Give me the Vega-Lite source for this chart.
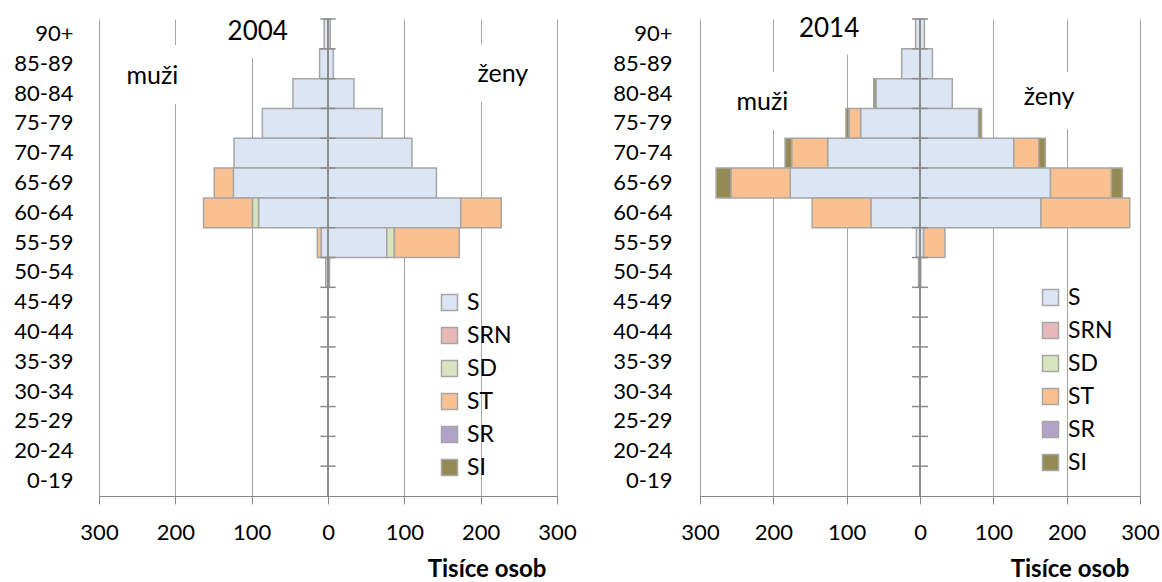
{
  "$schema": "https://vega.github.io/schema/vega-lite/v6.json",
  "background": "white",
  "padding": {"left": 13, "top": 15, "right": 0, "bottom": 0},
  "config": {"font": "Lato", "view": {"stroke": null}},
  "datasets": {
    "ages": [{"age": "90+"}, {"age": "85-89"}, {"age": "80-84"}, {"age": "75-79"}, {"age": "70-74"}, {"age": "65-69"}, {"age": "60-64"}, {"age": "55-59"}, {"age": "50-54"}, {"age": "45-49"}, {"age": "40-44"}, {"age": "35-39"}, {"age": "30-34"}, {"age": "25-29"}, {"age": "20-24"}, {"age": "0-19"}],
    "pop": [
      {"year": 2004, "age": "90+", "type": "S", "value": -5},
      {"year": 2004, "age": "90+", "type": "S", "value": 3},
      {"year": 2004, "age": "85-89", "type": "S", "value": -11},
      {"year": 2004, "age": "85-89", "type": "S", "value": 7},
      {"year": 2004, "age": "80-84", "type": "S", "value": -46},
      {"year": 2004, "age": "80-84", "type": "S", "value": 34},
      {"year": 2004, "age": "75-79", "type": "S", "value": -86},
      {"year": 2004, "age": "75-79", "type": "S", "value": 71},
      {"year": 2004, "age": "70-74", "type": "S", "value": -123},
      {"year": 2004, "age": "70-74", "type": "S", "value": 110},
      {"year": 2004, "age": "65-69", "type": "S", "value": -124},
      {"year": 2004, "age": "65-69", "type": "ST", "value": -25},
      {"year": 2004, "age": "65-69", "type": "S", "value": 142},
      {"year": 2004, "age": "60-64", "type": "S", "value": -91},
      {"year": 2004, "age": "60-64", "type": "SD", "value": -8},
      {"year": 2004, "age": "60-64", "type": "ST", "value": -64},
      {"year": 2004, "age": "60-64", "type": "S", "value": 174},
      {"year": 2004, "age": "60-64", "type": "ST", "value": 53},
      {"year": 2004, "age": "55-59", "type": "S", "value": -9},
      {"year": 2004, "age": "55-59", "type": "ST", "value": -5},
      {"year": 2004, "age": "55-59", "type": "S", "value": 77},
      {"year": 2004, "age": "55-59", "type": "SD", "value": 10},
      {"year": 2004, "age": "55-59", "type": "ST", "value": 85},
      {"year": 2004, "age": "50-54", "type": "S", "value": -3},
      {"year": 2004, "age": "50-54", "type": "S", "value": 2},
      {"year": 2014, "age": "90+", "type": "S", "value": -6},
      {"year": 2014, "age": "90+", "type": "S", "value": 6},
      {"year": 2014, "age": "85-89", "type": "S", "value": -25},
      {"year": 2014, "age": "85-89", "type": "S", "value": 17},
      {"year": 2014, "age": "80-84", "type": "S", "value": -60},
      {"year": 2014, "age": "80-84", "type": "SI", "value": -3},
      {"year": 2014, "age": "80-84", "type": "S", "value": 44},
      {"year": 2014, "age": "75-79", "type": "S", "value": -81},
      {"year": 2014, "age": "75-79", "type": "ST", "value": -16},
      {"year": 2014, "age": "75-79", "type": "SI", "value": -4},
      {"year": 2014, "age": "75-79", "type": "S", "value": 80},
      {"year": 2014, "age": "75-79", "type": "SI", "value": 4},
      {"year": 2014, "age": "70-74", "type": "S", "value": -126},
      {"year": 2014, "age": "70-74", "type": "ST", "value": -49},
      {"year": 2014, "age": "70-74", "type": "SI", "value": -9},
      {"year": 2014, "age": "70-74", "type": "S", "value": 128},
      {"year": 2014, "age": "70-74", "type": "ST", "value": 34},
      {"year": 2014, "age": "70-74", "type": "SI", "value": 9},
      {"year": 2014, "age": "65-69", "type": "S", "value": -177},
      {"year": 2014, "age": "65-69", "type": "ST", "value": -81},
      {"year": 2014, "age": "65-69", "type": "SI", "value": -20},
      {"year": 2014, "age": "65-69", "type": "S", "value": 178},
      {"year": 2014, "age": "65-69", "type": "ST", "value": 83},
      {"year": 2014, "age": "65-69", "type": "SI", "value": 15},
      {"year": 2014, "age": "60-64", "type": "S", "value": -67},
      {"year": 2014, "age": "60-64", "type": "ST", "value": -80},
      {"year": 2014, "age": "60-64", "type": "S", "value": 165},
      {"year": 2014, "age": "60-64", "type": "ST", "value": 121},
      {"year": 2014, "age": "55-59", "type": "S", "value": -5},
      {"year": 2014, "age": "55-59", "type": "S", "value": 5},
      {"year": 2014, "age": "55-59", "type": "ST", "value": 29},
      {"year": 2014, "age": "50-54", "type": "S", "value": -2},
      {"year": 2014, "age": "50-54", "type": "S", "value": 1}
    ]
  },
  "spacing": 35,
  "resolve": {"scale": {"x": "independent", "y": "independent", "color": "shared"}, "axis": {"x": "independent", "y": "independent"}, "legend": {"color": "independent"}},
  "hconcat": [
    {
      "width": 458,
      "height": 477,
      "layer": [
        {"data": {"values": [{}]}, "mark": {"type": "text", "text": "2004", "fontSize": 26, "baseline": "alphabetic", "dy": 6, "stroke": "white", "strokeWidth": 36, "strokeJoin": "round", "color": "white"}, "encoding": {"x": {"datum": -92, "type": "quantitative"}, "y": {"datum": "90+", "type": "nominal"}}},
        {"data": {"values": [{}]}, "mark": {"type": "text", "text": "muži", "fontSize": 25, "baseline": "alphabetic", "dy": -10, "stroke": "white", "strokeWidth": 40, "strokeJoin": "round", "color": "white"}, "encoding": {"x": {"datum": -230, "type": "quantitative"}, "y": {"datum": "80-84", "type": "nominal"}}},
        {"data": {"values": [{}]}, "mark": {"type": "text", "text": "ženy", "fontSize": 25, "baseline": "alphabetic", "dy": -12, "stroke": "white", "strokeWidth": 40, "strokeJoin": "round", "color": "white"}, "encoding": {"x": {"datum": 229, "type": "quantitative"}, "y": {"datum": "80-84", "type": "nominal"}}},
        {
          "data": {"name": "pop"},
          "transform": [{"filter": "datum.year == 2004"}, {"calculate": "indexof(['S','SRN','SD','ST','SR','SI'], datum.type)", "as": "stackOrder"}],
          "mark": {"type": "bar", "stroke": "#a6a6a6", "strokeWidth": 1.5},
          "encoding": {
            "y": {"field": "age", "type": "nominal", "scale": {"domain": ["90+", "85-89", "80-84", "75-79", "70-74", "65-69", "60-64", "55-59", "50-54", "45-49", "40-44", "35-39", "30-34", "25-29", "20-24", "0-19"], "paddingInner": 0, "paddingOuter": 0}, "axis": {"title": null, "domain": false, "ticks": false, "grid": false, "labelPadding": 26, "labelFontSize": 22, "labelColor": "black"}},
            "x": {"field": "value", "type": "quantitative", "stack": "zero", "scale": {"domain": [-300, 300], "nice": false}, "axis": {"values": [-300, -250, -200, -150, -100, -50, 0, 50, 100, 150, 200, 250, 300], "labelExpr": "datum.value % 100 == 0 ? abs(datum.value) : ''", "title": "Tisíce osob", "titleFontWeight": "bold", "titleFontSize": 24, "titleAlign": "right", "titleAnchor": "end", "titleX": 447, "titleY": 80, "titleBaseline": "alphabetic", "titleColor": "black", "grid": true, "gridColor": "#a6a6a6", "gridOpacity": {"condition": {"test": "datum.value % 100 != 0 || datum.value == 0", "value": 0}, "value": 1}, "domainColor": "#868686", "tickColor": "#868686", "tickSize": {"condition": {"test": "datum.value % 100 == 0", "value": 8}, "value": 6}, "labelPadding": 18, "labelFontSize": 22, "labelFlush": false, "labelColor": "black"}},
            "color": {"field": "type", "type": "nominal", "sort": ["S", "SRN", "SD", "ST", "SR", "SI"], "scale": {"domain": ["S", "SRN", "SD", "ST", "SR", "SI"], "range": ["#dbe5f3", "#e6b9b8", "#d7e4bd", "#fac090", "#b3a2c7", "#948a54"]}, "legend": {"orient": "none", "legendX": 339, "legendY": 272, "title": null, "symbolType": "square", "symbolSize": 256, "symbolStrokeColor": "#a6a6a6", "symbolStrokeWidth": 1.5, "labelFontSize": 23, "labelColor": "black", "rowPadding": 9, "labelOffset": 6}},
            "order": {"field": "stackOrder", "type": "quantitative", "sort": "ascending"}
          }
        },
        {"data": {"values": [{}]}, "mark": {"type": "rule", "color": "#8c8c8c", "strokeWidth": 2}, "encoding": {"x": {"datum": 0, "type": "quantitative"}}},
        {"data": {"name": "ages"}, "mark": {"type": "rule", "color": "#8c8c8c", "strokeWidth": 1.5}, "encoding": {"y": {"field": "age", "type": "nominal", "bandPosition": 0}, "x": {"datum": -10, "type": "quantitative"}, "x2": {"datum": 10}}},
        {"data": {"values": [{}]}, "mark": {"type": "text", "text": "2004", "fontSize": 26, "baseline": "alphabetic", "dy": 6, "color": "black"}, "encoding": {"x": {"datum": -92, "type": "quantitative"}, "y": {"datum": "90+", "type": "nominal"}}},
        {"data": {"values": [{}]}, "mark": {"type": "text", "text": "muži", "fontSize": 25, "baseline": "alphabetic", "dy": -10, "color": "black"}, "encoding": {"x": {"datum": -230, "type": "quantitative"}, "y": {"datum": "80-84", "type": "nominal"}}},
        {"data": {"values": [{}]}, "mark": {"type": "text", "text": "ženy", "fontSize": 25, "baseline": "alphabetic", "dy": -12, "color": "black"}, "encoding": {"x": {"datum": 229, "type": "quantitative"}, "y": {"datum": "80-84", "type": "nominal"}}}
      ]
    },
    {
      "width": 440,
      "height": 477,
      "layer": [
        {"data": {"values": [{}]}, "mark": {"type": "text", "text": "2014", "fontSize": 26, "baseline": "alphabetic", "dy": 3, "stroke": "white", "strokeWidth": 36, "strokeJoin": "round", "color": "white"}, "encoding": {"x": {"datum": -124, "type": "quantitative"}, "y": {"datum": "90+", "type": "nominal"}}},
        {"data": {"values": [{}]}, "mark": {"type": "text", "text": "muži", "fontSize": 25, "baseline": "alphabetic", "dy": 16, "stroke": "white", "strokeWidth": 40, "strokeJoin": "round", "color": "white"}, "encoding": {"x": {"datum": -215, "type": "quantitative"}, "y": {"datum": "80-84", "type": "nominal"}}},
        {"data": {"values": [{}]}, "mark": {"type": "text", "text": "ženy", "fontSize": 25, "baseline": "alphabetic", "dy": 11, "stroke": "white", "strokeWidth": 40, "strokeJoin": "round", "color": "white"}, "encoding": {"x": {"datum": 176, "type": "quantitative"}, "y": {"datum": "80-84", "type": "nominal"}}},
        {
          "data": {"name": "pop"},
          "transform": [{"filter": "datum.year == 2014"}, {"calculate": "indexof(['S','SRN','SD','ST','SR','SI'], datum.type)", "as": "stackOrder"}],
          "mark": {"type": "bar", "stroke": "#a6a6a6", "strokeWidth": 1.5},
          "encoding": {
            "y": {"field": "age", "type": "nominal", "scale": {"domain": ["90+", "85-89", "80-84", "75-79", "70-74", "65-69", "60-64", "55-59", "50-54", "45-49", "40-44", "35-39", "30-34", "25-29", "20-24", "0-19"], "paddingInner": 0, "paddingOuter": 0}, "axis": {"title": null, "domain": false, "ticks": false, "grid": false, "labelPadding": 28, "labelFontSize": 22, "labelColor": "black"}},
            "x": {"field": "value", "type": "quantitative", "stack": "zero", "scale": {"domain": [-300, 300], "nice": false}, "axis": {"values": [-300, -250, -200, -150, -100, -50, 0, 50, 100, 150, 200, 250, 300], "labelExpr": "datum.value % 100 == 0 ? abs(datum.value) : ''", "title": "Tisíce osob", "titleFontWeight": "bold", "titleFontSize": 24, "titleAlign": "right", "titleAnchor": "end", "titleX": 429, "titleY": 80, "titleBaseline": "alphabetic", "titleColor": "black", "grid": true, "gridColor": "#a6a6a6", "gridOpacity": {"condition": {"test": "datum.value % 100 != 0 || datum.value == 0", "value": 0}, "value": 1}, "domainColor": "#868686", "tickColor": "#868686", "tickSize": {"condition": {"test": "datum.value % 100 == 0", "value": 8}, "value": 6}, "labelPadding": 18, "labelFontSize": 22, "labelFlush": false, "labelColor": "black"}},
            "color": {"field": "type", "type": "nominal", "sort": ["S", "SRN", "SD", "ST", "SR", "SI"], "scale": {"domain": ["S", "SRN", "SD", "ST", "SR", "SI"], "range": ["#dbe5f3", "#e6b9b8", "#d7e4bd", "#fac090", "#b3a2c7", "#948a54"]}, "legend": {"orient": "none", "legendX": 339, "legendY": 267, "title": null, "symbolType": "square", "symbolSize": 256, "symbolStrokeColor": "#a6a6a6", "symbolStrokeWidth": 1.5, "labelFontSize": 23, "labelColor": "black", "rowPadding": 9, "labelOffset": 6}},
            "order": {"field": "stackOrder", "type": "quantitative", "sort": "ascending"}
          }
        },
        {"data": {"values": [{}]}, "mark": {"type": "rule", "color": "#8c8c8c", "strokeWidth": 2}, "encoding": {"x": {"datum": 0, "type": "quantitative"}}},
        {"data": {"name": "ages"}, "mark": {"type": "rule", "color": "#8c8c8c", "strokeWidth": 1.5}, "encoding": {"y": {"field": "age", "type": "nominal", "bandPosition": 0}, "x": {"datum": -11, "type": "quantitative"}, "x2": {"datum": 11}}},
        {"data": {"values": [{}]}, "mark": {"type": "text", "text": "2014", "fontSize": 26, "baseline": "alphabetic", "dy": 3, "color": "black"}, "encoding": {"x": {"datum": -124, "type": "quantitative"}, "y": {"datum": "90+", "type": "nominal"}}},
        {"data": {"values": [{}]}, "mark": {"type": "text", "text": "muži", "fontSize": 25, "baseline": "alphabetic", "dy": 16, "color": "black"}, "encoding": {"x": {"datum": -215, "type": "quantitative"}, "y": {"datum": "80-84", "type": "nominal"}}},
        {"data": {"values": [{}]}, "mark": {"type": "text", "text": "ženy", "fontSize": 25, "baseline": "alphabetic", "dy": 11, "color": "black"}, "encoding": {"x": {"datum": 176, "type": "quantitative"}, "y": {"datum": "80-84", "type": "nominal"}}}
      ]
    }
  ]
}
